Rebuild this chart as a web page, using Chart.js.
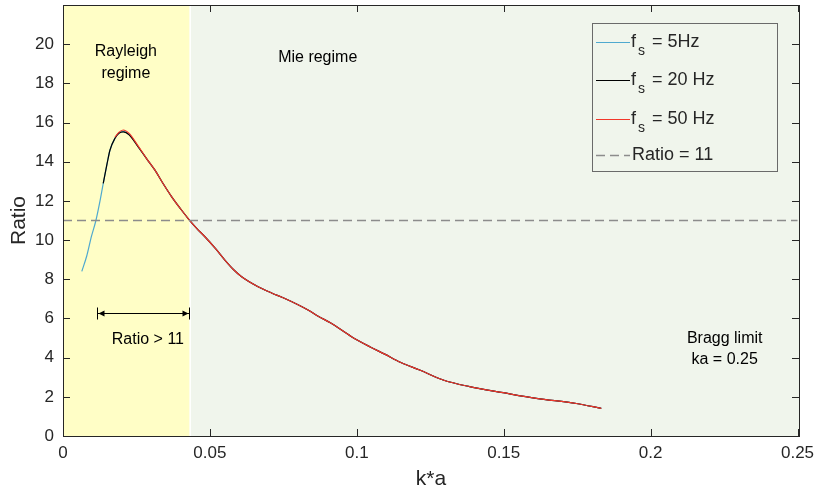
<!DOCTYPE html>
<html>
<head>
<meta charset="utf-8">
<script src="https://cdn.jsdelivr.net/npm/chart.js@4"></script>
<style>
  html, body { margin: 0; padding: 0; background: #fff; }
</style>
</head>
<body>
<canvas id="c" width="814" height="492"></canvas>
<script>
// values
const ka = [0.0064, 0.0081, 0.0097, 0.0112, 0.0126, 0.0137, 0.0150, 0.0160, 0.0177, 0.0190,
  0.0205, 0.0225, 0.0256, 0.0285, 0.0313, 0.0340, 0.0370, 0.0400, 0.0426, 0.0455,
  0.0483, 0.0520, 0.0551, 0.0580, 0.0608, 0.0664, 0.0710, 0.0755, 0.0800, 0.0834,
  0.0870, 0.0910, 0.0982, 0.1044, 0.1095, 0.1150, 0.1214, 0.1294, 0.1384, 0.1498,
  0.1611, 0.1747, 0.1832];
const ratio5Hz = [8.4, 9.2, 10.2, 11.0, 12.0, 12.9, 13.9, 14.6, 15.2, 15.45,
  15.55, 15.4, 14.76, 14.15, 13.57, 12.9, 12.21, 11.6, 11.1, 10.6,
  10.17, 9.55, 8.98, 8.5, 8.13, 7.62, 7.3, 7.02, 6.7, 6.43,
  6.1, 5.78, 5.07, 4.56, 4.18, 3.75, 3.37, 2.86, 2.52, 2.21,
  1.92, 1.66, 1.41];
const ratio20Hz = [null, null, null, null, null, 12.9, 13.9, 14.6, 15.2, 15.45,
  15.52, 15.38, 14.76, 14.15, 13.57, 12.9, 12.21, 11.6, 11.1, 10.6,
  10.17, 9.55, 8.98, 8.5, 8.13, 7.62, 7.3, 7.02, 6.7, 6.43,
  6.1, 5.78, 5.07, 4.56, 4.18, 3.75, 3.37, 2.86, 2.52, 2.21,
  1.92, 1.66, 1.41];
const ratio50Hz = [null, null, null, null, null, null, null, null, 15.25, 15.5,
  15.62, 15.45, 14.8, 14.15, 13.57, 12.9, 12.21, 11.6, 11.1, 10.6,
  10.17, 9.55, 8.98, 8.5, 8.13, 7.62, 7.3, 7.02, 6.7, 6.43,
  6.1, 5.78, 5.07, 4.56, 4.18, 3.75, 3.37, 2.86, 2.52, 2.21,
  1.92, 1.66, 1.41];
const thresholdKa = [0, 0.25];
const thresholdRatio = [11, 11];
const xTicks = [0, 0.05, 0.1, 0.15, 0.2, 0.25];
const yTicks = [0, 2, 4, 6, 8, 10, 12, 14, 16, 18, 20];
const rayleighLimit = 0.0432;
const arrowFrom = 0.0116, arrowTo = 0.0429, arrowRatio = 6.28;

const FONT = '"Liberation Sans", Arial, Helvetica, sans-serif';
const INK = '#262626';
const YELLOW = '#fffec6';
const GREEN = '#f0f5ec';

const pts = (xs, ys) => xs.map((x, i) => ({ x, y: ys[i] }));

const decor = {
  id: 'decor',
  beforeDatasetsDraw(chart) {
    const { ctx, chartArea: a, scales: { x } } = chart;
    const xr = x.getPixelForValue(rayleighLimit);
    ctx.save();
    ctx.fillStyle = YELLOW;
    ctx.fillRect(a.left, a.top, xr - a.left, a.bottom - a.top);
    ctx.fillStyle = GREEN;
    ctx.fillRect(xr, a.top, a.right - xr, a.bottom - a.top);
    ctx.fillStyle = '#ffffff';
    ctx.fillRect(xr - 0.5, a.top, 1.5, a.bottom - a.top);
    ctx.restore();
  },
  afterDatasetsDraw(chart) {
    const { ctx, chartArea: a, scales: { x, y } } = chart;
    ctx.save();

    // axes box + inward ticks
    ctx.strokeStyle = INK;
    ctx.lineWidth = 1;
    ctx.strokeRect(Math.round(a.left) + 0.5, Math.round(a.top) + 0.5,
      Math.round(a.right - a.left), Math.round(a.bottom - a.top));
    ctx.beginPath();
    xTicks.forEach(v => {
      const px = Math.round(x.getPixelForValue(v)) + 0.5;
      ctx.moveTo(px, a.bottom); ctx.lineTo(px, a.bottom - 7);
      ctx.moveTo(px, a.top); ctx.lineTo(px, a.top + 7);
    });
    yTicks.forEach(v => {
      const py = Math.round(y.getPixelForValue(v)) + 0.5;
      ctx.moveTo(a.left, py); ctx.lineTo(a.left + 7, py);
      ctx.moveTo(a.right, py); ctx.lineTo(a.right - 7, py);
    });
    ctx.stroke();

    // axis titles
    ctx.fillStyle = INK;
    ctx.font = '21px ' + FONT;
    ctx.textAlign = 'center';
    ctx.textBaseline = 'middle';
    ctx.fillText('k*a', (a.left + a.right) / 2, 479);
    ctx.save();
    ctx.translate(19, (a.top + a.bottom) / 2);
    ctx.rotate(-Math.PI / 2);
    ctx.fillText('Ratio', 0, 0);
    ctx.restore();

    // annotations
    ctx.fillStyle = '#000';
    ctx.font = '16px ' + FONT;
    ctx.fillText('Rayleigh', x.getPixelForValue(0.0214), y.getPixelForValue(19.6));
    ctx.fillText('regime', x.getPixelForValue(0.0214), y.getPixelForValue(18.5));
    ctx.fillText('Mie regime', x.getPixelForValue(0.0867), y.getPixelForValue(19.34));
    ctx.fillText('Ratio > 11', x.getPixelForValue(0.0289), y.getPixelForValue(4.9));
    ctx.fillText('Bragg limit', x.getPixelForValue(0.2252), y.getPixelForValue(4.95));
    ctx.fillText('ka = 0.25', x.getPixelForValue(0.2252), y.getPixelForValue(3.88));

    // double arrow
    const ax1 = Math.round(x.getPixelForValue(arrowFrom)) + 0.5;
    const ax2 = Math.round(x.getPixelForValue(arrowTo)) + 0.5;
    const ay = Math.round(y.getPixelForValue(arrowRatio)) + 0.5;
    ctx.strokeStyle = '#000';
    ctx.beginPath();
    ctx.moveTo(ax1, ay); ctx.lineTo(ax2, ay);
    ctx.moveTo(ax1, ay - 6); ctx.lineTo(ax1, ay + 6);
    ctx.moveTo(ax2, ay - 6); ctx.lineTo(ax2, ay + 6);
    ctx.stroke();
    ctx.fillStyle = '#000';
    ctx.beginPath();
    ctx.moveTo(ax1 + 1, ay); ctx.lineTo(ax1 + 7, ay - 3); ctx.lineTo(ax1 + 7, ay + 3); ctx.closePath();
    ctx.moveTo(ax2 - 1, ay); ctx.lineTo(ax2 - 7, ay - 3); ctx.lineTo(ax2 - 7, ay + 3); ctx.closePath();
    ctx.fill();

    // legend box
    const lx = 592, ly = 23;
    ctx.fillStyle = GREEN;
    ctx.fillRect(lx, ly, 185, 148);
    ctx.strokeStyle = '#6a6a6a';
    ctx.strokeRect(lx + 0.5, ly + 0.5, 185, 148);
    const rowY = [ly + 19, ly + 57, ly + 96, ly + 132];
    chart.data.datasets.forEach((d, i) => {
      const ry = rowY[i];
      ctx.save();
      ctx.strokeStyle = d.borderColor;
      ctx.lineWidth = d.borderWidth;
      ctx.setLineDash(d.borderDash || []);
      ctx.beginPath();
      ctx.moveTo(lx + 4, ry + 0.5); ctx.lineTo(lx + 38, ry + 0.5);
      ctx.stroke();
      ctx.restore();
      ctx.fillStyle = INK;
      ctx.textAlign = 'left';
      ctx.textBaseline = 'middle';
      if (d.fs) {
        ctx.font = '18px ' + FONT;
        ctx.fillText('f', lx + 39, ry);
        ctx.font = '14px ' + FONT;
        ctx.fillText('s', lx + 46, ry + 9);
        ctx.font = '18px ' + FONT;
        ctx.fillText('= ' + d.fs, lx + 60, ry);
      } else {
        ctx.font = '18px ' + FONT;
        ctx.fillText(d.label, lx + 40, ry);
      }
    });
    ctx.restore();
  }
};

new Chart(document.getElementById('c'), {
  type: 'line',
  data: {
    datasets: [
      { label: 'fs = 5Hz', fs: '5Hz', data: pts(ka, ratio5Hz), borderColor: '#4fa9cf', borderWidth: 1.2, order: 3 },
      { label: 'fs = 20 Hz', fs: '20 Hz', data: pts(ka, ratio20Hz), borderColor: '#000000', borderWidth: 1.2, order: 2 },
      { label: 'fs = 50 Hz', fs: '50 Hz', data: pts(ka, ratio50Hz), borderColor: '#f2372a', borderWidth: 1.2, order: 1 },
      { label: 'Ratio = 11', data: pts(thresholdKa, thresholdRatio), borderColor: '#8c8c8c', borderWidth: 1.5, borderDash: [9, 5], order: 0, cubicInterpolationMode: 'default', tension: 0 }
    ]
  },
  options: {
    responsive: false,
    animation: false,
    devicePixelRatio: 1,
    layout: { padding: { top: 5, right: 15, left: 0, bottom: 0 } },
    elements: {
      point: { radius: 0 },
      line: { cubicInterpolationMode: 'monotone', fill: false }
    },
    spanGaps: false,
    plugins: { legend: { display: false }, tooltip: { enabled: false } },
    scales: {
      x: {
        type: 'linear', min: 0, max: 0.2505,
        grid: { display: false, drawTicks: false }, border: { display: false },
        afterBuildTicks: s => { s.ticks = xTicks.map(v => ({ value: v })); },
        afterFit: s => { s.height = 56; s.paddingLeft = 0; s.paddingRight = 0; },
        ticks: { color: INK, font: { family: FONT, size: 17 }, padding: 7, maxRotation: 0,
          callback: v => String(v) }
      },
      y: {
        type: 'linear', min: 0, max: 22,
        grid: { display: false, drawTicks: false }, border: { display: false },
        afterBuildTicks: s => { s.ticks = yTicks.map(v => ({ value: v })); },
        afterFit: s => { s.width = 63; s.paddingTop = 0; s.paddingBottom = 0; },
        ticks: { color: INK, font: { family: FONT, size: 17 }, padding: 9,
          callback: v => String(v) }
      }
    }
  },
  plugins: [decor]
});
</script>
</body>
</html>
